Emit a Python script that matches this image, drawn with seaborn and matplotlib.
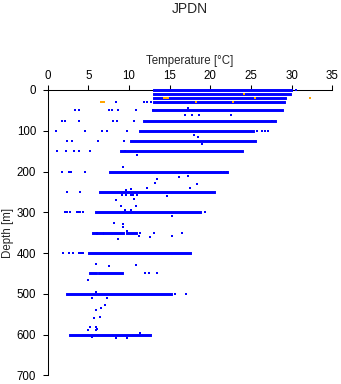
import matplotlib
matplotlib.use("Agg")
import matplotlib.pyplot as plt
import seaborn as sns
import pandas as pd

# ---- data ----
# horizontal bands of dense observations: depth [m], start temp, end temp
band_depth = [0, 10, 20, 30, 50, 75, 100, 125, 150, 200, 250, 300,
              350, 350, 350, 350, 400, 450, 450, 500, 600]
band_tmin = [13.1, 13.1, 13.1, 13.1, 13.0, 11.9, 11.3, 10.3, 9.0, 7.7, 6.4, 6.0,
             5.6, 6.1, 6.9, 9.7, 5.1, 5.2, 6.3, 2.4, 2.7]
band_tmax = [29.9, 29.8, 29.2, 29.0, 28.8, 27.9, 25.2, 25.5, 23.9, 22.0, 20.4, 18.7,
             5.9, 6.7, 9.3, 10.8, 17.5, 6.0, 9.1, 15.2, 12.6]

# individual blue observations
pt_depth = [0,
            30, 30, 30, 30,
            45,
            50, 50, 50, 50, 50, 50, 50,
            62, 62, 62, 62,
            75, 75, 75, 75, 75, 75, 75,
            100, 100, 100, 100, 100, 100, 100, 100, 100,
            111, 116,
            125, 125, 125, 125,
            132,
            150, 150, 150, 150, 150, 150,
            160, 190,
            200, 200, 200, 200, 200, 200, 200,
            213, 211, 219, 228, 230, 241, 241,
            250, 250, 245, 243,
            258, 258, 258, 258, 258,
            261, 270, 268, 284, 285,
            300, 300, 300, 300, 300, 300, 300, 300, 295, 295,
            310, 327, 329, 335,
            350, 350, 350, 347,
            359, 359, 361, 366,
            400, 400, 400, 400, 400, 400,
            428, 431, 430,
            450, 450, 450,
            467,
            500, 500, 495, 511, 511,
            528, 536, 541, 556, 560,
            582, 589, 582, 586, 589, 607, 597,
            609, 609]
pt_temp = [30.5,
           8.4, 11.9, 12.2, 12.7,
           17.2,
           3.3, 3.8, 7.6, 7.9, 8.7, 10.8, 13.0,
           16.9, 17.7, 18.6, 22.5,
           1.7, 2.1, 3.8, 8.0, 8.5, 10.6, 27.6,
           1.0, 4.6, 6.7, 7.3, 9.8, 25.8, 26.3, 26.7, 27.1,
           18.0, 18.5,
           2.4, 3.0, 6.2, 9.4,
           19.0,
           1.2, 2.3, 3.2, 3.8, 5.2, 9.5,
           11.0, 9.2,
           1.8, 2.6, 2.9, 4.6, 21.3, 21.7, 22.0,
           16.1, 17.2, 13.5, 13.2, 18.3, 12.2, 17.5,
           2.4, 4.0, 9.6, 10.3,
           9.1, 9.6, 10.2, 10.5, 11.0,
           14.7, 8.4, 10.6, 10.9, 9.0,
           2.1, 2.4, 2.7, 3.6, 3.8, 4.0, 4.4, 19.3, 9.5, 10.3,
           15.3, 8.2, 9.2, 9.2,
           11.35, 13.1, 16.5, 9.7,
           11.2, 15.3, 12.6, 8.7,
           1.9, 2.65, 3.15, 3.8, 4.1, 4.4,
           5.9, 7.5, 10.8,
           12.0, 12.4, 13.5,
           4.9,
           15.7, 17.0, 5.9, 5.5, 7.3,
           7.1, 6.6, 6.0, 6.4, 5.7,
           5.2, 4.95, 5.9, 6.1, 5.9, 5.5, 11.35,
           8.4, 9.8]

# orange (flagged) observations
fl_depth = [10, 20, 20, 20, 20, 20, 30, 30, 30, 30, 30]
fl_temp = [24.2, 14.3, 14.55, 14.75, 25.45, 32.3, 6.5, 6.75, 6.95, 18.2, 22.8]

x_ticks = [0, 5, 10, 15, 20, 25, 30, 35]
y_ticks = [0, 100, 200, 300, 400, 500, 600, 700]

# ---- plot ----
sns.set_style("ticks")
plt.rcParams['font.family'] = ['Liberation Sans', 'DejaVu Sans']

W, H = 341, 384
fig = plt.figure(figsize=(W / 100, H / 100), dpi=100)
ax = fig.add_axes([47.7 / W, 1 - 375.3 / H, 284.6 / W, 285.3 / H])

blue = "#0000FF"
orange = "#FFA500"

ax.hlines(band_depth, band_tmin, band_tmax, colors=blue, linewidth=2.1,
          capstyle="projecting", clip_on=False, zorder=3)

pts = pd.DataFrame({"temp": pt_temp, "depth": pt_depth})
sns.scatterplot(data=pts, x="temp", y="depth", ax=ax, color=blue, marker="s",
                s=4.6, linewidth=0, clip_on=False, zorder=4)
fl = pd.DataFrame({"temp": fl_temp, "depth": fl_depth})
sns.scatterplot(data=fl, x="temp", y="depth", ax=ax, color=orange, marker="s",
                s=3.6, linewidth=0, clip_on=False, zorder=5)

ax.set_xlim(0, 35)
ax.set_ylim(700, 0)
ax.set_xticks(x_ticks)
ax.set_yticks(y_ticks)
ax.set_xticklabels([str(v) for v in x_ticks])
ax.set_yticklabels([str(v) for v in y_ticks])
ax.xaxis.tick_top()
ax.set_xlabel("")
ax.set_ylabel("")

for side in ["right", "bottom"]:
    ax.spines[side].set_visible(False)
for side in ["top", "left"]:
    ax.spines[side].set_linewidth(0.75)
    ax.spines[side].set_color("black")
    ax.spines[side].set_zorder(2)

ax.tick_params(axis="x", direction="out", length=3.8, width=0.75, pad=2.2,
               labelsize=8.3, colors="black", top=True, bottom=False)
ax.tick_params(axis="y", direction="out", length=3.8, width=0.75, pad=4.5,
               labelsize=8.3, colors="black")
ax.patch.set_alpha(0)

fig.text(190 / W, 1 - 13.3 / H, "JPDN", ha="center", va="baseline", fontsize=10)
fig.text(190 / W, 1 - 64.3 / H, "Temperature [°C]", ha="center", va="baseline",
         fontsize=8.3)
fig.text(11 / W, 1 - 232.7 / H, "Depth [m]", ha="center", va="baseline",
         rotation=90, rotation_mode="anchor", fontsize=8.3)

fig.savefig("out.png", dpi=100, facecolor="white")
